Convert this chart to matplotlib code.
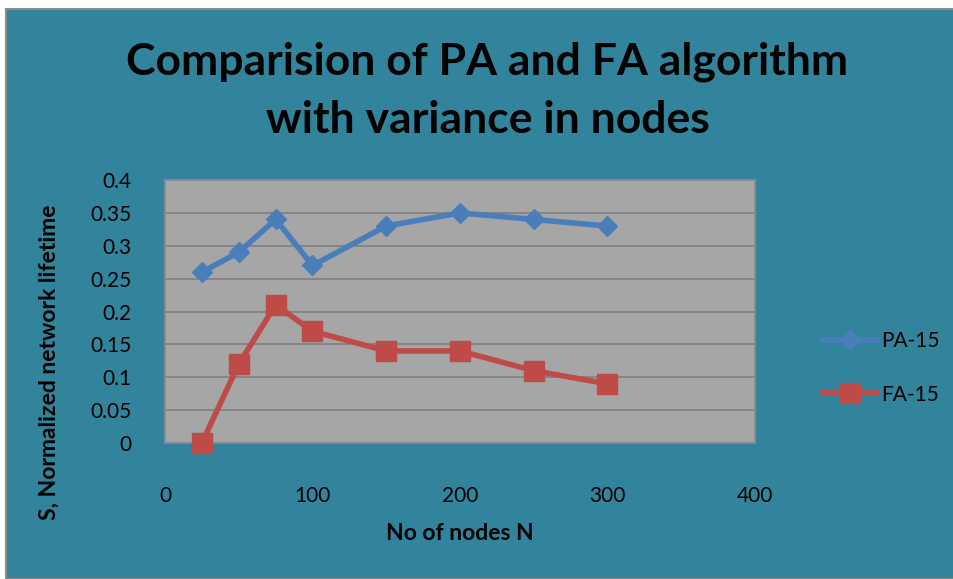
import matplotlib
matplotlib.use("Agg")
import matplotlib.pyplot as plt
from matplotlib.patches import Rectangle

nodes = [25, 50, 75, 100, 150, 200, 250, 300]
pa15 = [0.26, 0.29, 0.34, 0.27, 0.33, 0.35, 0.34, 0.33]
fa15 = [0.0, 0.12, 0.21, 0.17, 0.14, 0.14, 0.11, 0.09]
xticks = [0, 100, 200, 300, 400]
yticks = [0, 0.05, 0.1, 0.15, 0.2, 0.25, 0.3, 0.35, 0.4]
ytick_labels = ["0", "0.05", "0.1", "0.15", "0.2", "0.25", "0.3", "0.35", "0.4"]

plt.rcParams['font.family'] = ['Lato', 'DejaVu Sans']

W, H = 954, 579
fig = plt.figure(figsize=(W / 100, H / 100), dpi=100)
fig.patch.set_facecolor('white')
teal = '#31849B'
fig.add_artist(Rectangle((6 / W, 0), 1 - 6 / W, 1 - 9 / H, transform=fig.transFigure,
                         facecolor=teal, edgecolor='#8C8C8C', linewidth=1.5, zorder=0))

ax = fig.add_axes([165 / W, 1 - 443 / H, (755 - 165) / W, (443 - 180) / H])
ax.set_facecolor('#A6A6A6')
ax.set_xlim(0, 400)
ax.set_ylim(0, 0.4)
ax.set_xticks(xticks)
ax.set_yticks(yticks)
ax.set_yticklabels(ytick_labels)
ax.tick_params(length=0, labelsize=15, colors='black')
ax.tick_params(axis='x', pad=31)
ax.tick_params(axis='y', pad=24)
ax.grid(axis='y', color='#7F7F7F', linewidth=1.2)
ax.set_axisbelow(True)
for s in ax.spines.values():
    s.set_color('#8C8C8C')
    s.set_linewidth(1.2)

ax.plot(nodes, pa15, color='#4A7EBB', linewidth=4, marker='D', markersize=10,
        label='PA-15', clip_on=False, zorder=3)
ax.plot(nodes, fa15, color='#BE4B48', linewidth=4, marker='s', markersize=14,
        label='FA-15', clip_on=False, zorder=3)

ax.set_xlabel('No of nodes N', fontsize=16.5, fontweight='bold', labelpad=12)
ax.set_ylabel('S, Normalized network lifetime', fontsize=16.5, fontweight='bold')
ax.yaxis.set_label_coords(60 / W, 1 - 362 / H, transform=fig.transFigure)

fig.text(0.511, 1 - 62 / H, 'Comparision of PA and FA algorithm', ha='center', va='center',
         fontsize=32, fontweight='bold')
fig.text(0.511, 1 - 120 / H, 'with variance in nodes', ha='center', va='center',
         fontsize=32, fontweight='bold')

leg = ax.legend(loc='center left', bbox_to_anchor=(804 / W, 1 - 368 / H),
                bbox_transform=fig.transFigure, frameon=False, fontsize=15,
                handlelength=2.6, labelspacing=1.6, handletextpad=0.2)

fig.savefig('out.png', dpi=100, facecolor=fig.get_facecolor())
